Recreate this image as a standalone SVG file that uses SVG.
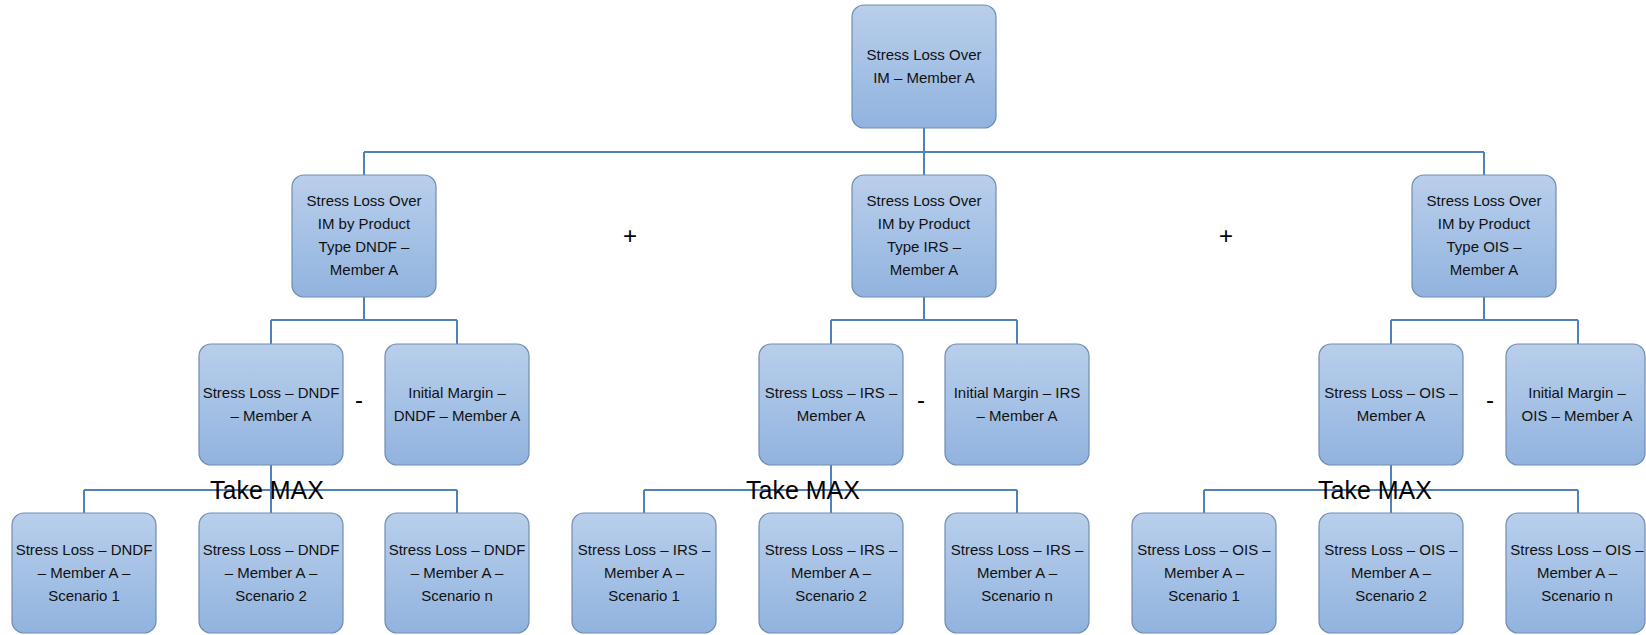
<svg xmlns="http://www.w3.org/2000/svg" width="1646" height="635" viewBox="0 0 1646 635">
<defs>
<linearGradient id="g" x1="0" y1="0" x2="0" y2="1">
<stop offset="0" stop-color="#b9cfeb"/>
<stop offset="1" stop-color="#91b3df"/>
</linearGradient>
<style>
.box{fill:url(#g);stroke:#6f8db3;stroke-width:1.2}
.t{font-family:"Liberation Sans",Arial,sans-serif;font-size:15px;fill:#111;text-anchor:middle}
.op{font-family:"Liberation Sans",Arial,sans-serif;font-size:24px;fill:#000;text-anchor:middle}
.max{font-family:"Liberation Sans",Arial,sans-serif;font-size:25px;fill:#000}
.c{fill:none;stroke:#4f81bd;stroke-width:2}
</style>
</defs>
<rect width="1646" height="635" fill="#fff"/>
<g id="connectors" class="c">
<path d="M924,128V152M364,152H1484M364,152V175M924,152V175M1484,152V175"/>
<path d="M364,297V320M271,320H457M271,320V344M457,320V344"/>
<path d="M924,297V320M831,320H1017M831,320V344M1017,320V344"/>
<path d="M1484,297V320M1391,320H1578M1391,320V344M1578,320V344"/>
<path d="M271,465V513M84,490H457M84,490V513M457,490V513"/>
<path d="M831,465V513M644,490H1017M644,490V513M1017,490V513"/>
<path d="M1391,465V513M1204,490H1578M1204,490V513M1578,490V513"/>
</g>
<g id="top"><rect class="box" x="852" y="5" width="144" height="123" rx="12"/>
<text class="t" x="924" y="60">Stress Loss Over</text><text class="t" x="924" y="83">IM – Member A</text></g>
<g id="p-dndf"><rect class="box" x="292" y="175" width="144" height="122" rx="12"/>
<text class="t" x="364" y="206">Stress Loss Over</text><text class="t" x="364" y="229">IM by Product</text><text class="t" x="364" y="252">Type DNDF –</text><text class="t" x="364" y="275">Member A</text></g>
<g id="p-irs"><rect class="box" x="852" y="175" width="144" height="122" rx="12"/>
<text class="t" x="924" y="206">Stress Loss Over</text><text class="t" x="924" y="229">IM by Product</text><text class="t" x="924" y="252">Type IRS –</text><text class="t" x="924" y="275">Member A</text></g>
<g id="p-ois"><rect class="box" x="1412" y="175" width="144" height="122" rx="12"/>
<text class="t" x="1484" y="206">Stress Loss Over</text><text class="t" x="1484" y="229">IM by Product</text><text class="t" x="1484" y="252">Type OIS –</text><text class="t" x="1484" y="275">Member A</text></g>
<g id="sl-dndf"><rect class="box" x="199" y="344" width="144" height="121" rx="12"/>
<text class="t" x="271" y="398">Stress Loss – DNDF</text><text class="t" x="271" y="421">– Member A</text></g>
<g id="im-dndf"><rect class="box" x="385" y="344" width="144" height="121" rx="12"/>
<text class="t" x="457" y="398">Initial Margin –</text><text class="t" x="457" y="421">DNDF – Member A</text></g>
<g id="sl-irs"><rect class="box" x="759" y="344" width="144" height="121" rx="12"/>
<text class="t" x="831" y="398">Stress Loss – IRS –</text><text class="t" x="831" y="421">Member A</text></g>
<g id="im-irs"><rect class="box" x="945" y="344" width="144" height="121" rx="12"/>
<text class="t" x="1017" y="398">Initial Margin – IRS</text><text class="t" x="1017" y="421">– Member A</text></g>
<g id="sl-ois"><rect class="box" x="1319" y="344" width="144" height="121" rx="12"/>
<text class="t" x="1391" y="398">Stress Loss – OIS –</text><text class="t" x="1391" y="421">Member A</text></g>
<g id="im-ois"><rect class="box" x="1506" y="344" width="139" height="121" rx="12"/>
<text class="t" x="1577" y="398">Initial Margin –</text><text class="t" x="1577" y="421">OIS – Member A</text></g>
<g id="s-dndf-1"><rect class="box" x="12" y="513" width="144" height="120" rx="12"/>
<text class="t" x="84" y="555">Stress Loss – DNDF</text><text class="t" x="84" y="578">– Member A –</text><text class="t" x="84" y="601">Scenario 1</text></g>
<g id="s-dndf-2"><rect class="box" x="199" y="513" width="144" height="120" rx="12"/>
<text class="t" x="271" y="555">Stress Loss – DNDF</text><text class="t" x="271" y="578">– Member A –</text><text class="t" x="271" y="601">Scenario 2</text></g>
<g id="s-dndf-n"><rect class="box" x="385" y="513" width="144" height="120" rx="12"/>
<text class="t" x="457" y="555">Stress Loss – DNDF</text><text class="t" x="457" y="578">– Member A –</text><text class="t" x="457" y="601">Scenario n</text></g>
<g id="s-irs-1"><rect class="box" x="572" y="513" width="144" height="120" rx="12"/>
<text class="t" x="644" y="555">Stress Loss – IRS –</text><text class="t" x="644" y="578">Member A –</text><text class="t" x="644" y="601">Scenario 1</text></g>
<g id="s-irs-2"><rect class="box" x="759" y="513" width="144" height="120" rx="12"/>
<text class="t" x="831" y="555">Stress Loss – IRS –</text><text class="t" x="831" y="578">Member A –</text><text class="t" x="831" y="601">Scenario 2</text></g>
<g id="s-irs-n"><rect class="box" x="945" y="513" width="144" height="120" rx="12"/>
<text class="t" x="1017" y="555">Stress Loss – IRS –</text><text class="t" x="1017" y="578">Member A –</text><text class="t" x="1017" y="601">Scenario n</text></g>
<g id="s-ois-1"><rect class="box" x="1132" y="513" width="144" height="120" rx="12"/>
<text class="t" x="1204" y="555">Stress Loss – OIS –</text><text class="t" x="1204" y="578">Member A –</text><text class="t" x="1204" y="601">Scenario 1</text></g>
<g id="s-ois-2"><rect class="box" x="1319" y="513" width="144" height="120" rx="12"/>
<text class="t" x="1391" y="555">Stress Loss – OIS –</text><text class="t" x="1391" y="578">Member A –</text><text class="t" x="1391" y="601">Scenario 2</text></g>
<g id="s-ois-n"><rect class="box" x="1506" y="513" width="139" height="120" rx="12"/>
<text class="t" x="1577" y="555">Stress Loss – OIS –</text><text class="t" x="1577" y="578">Member A –</text><text class="t" x="1577" y="601">Scenario n</text></g>
<g id="operators">
<text class="op" x="630" y="244">+</text>
<text class="op" x="1226" y="244">+</text>
<text class="op" x="359" y="408">-</text>
<text class="op" x="921" y="408">-</text>
<text class="op" x="1490" y="408">-</text>
<text class="max" x="210" y="499">Take MAX</text>
<text class="max" x="746" y="499">Take MAX</text>
<text class="max" x="1318" y="499">Take MAX</text>
</g>
</svg>
